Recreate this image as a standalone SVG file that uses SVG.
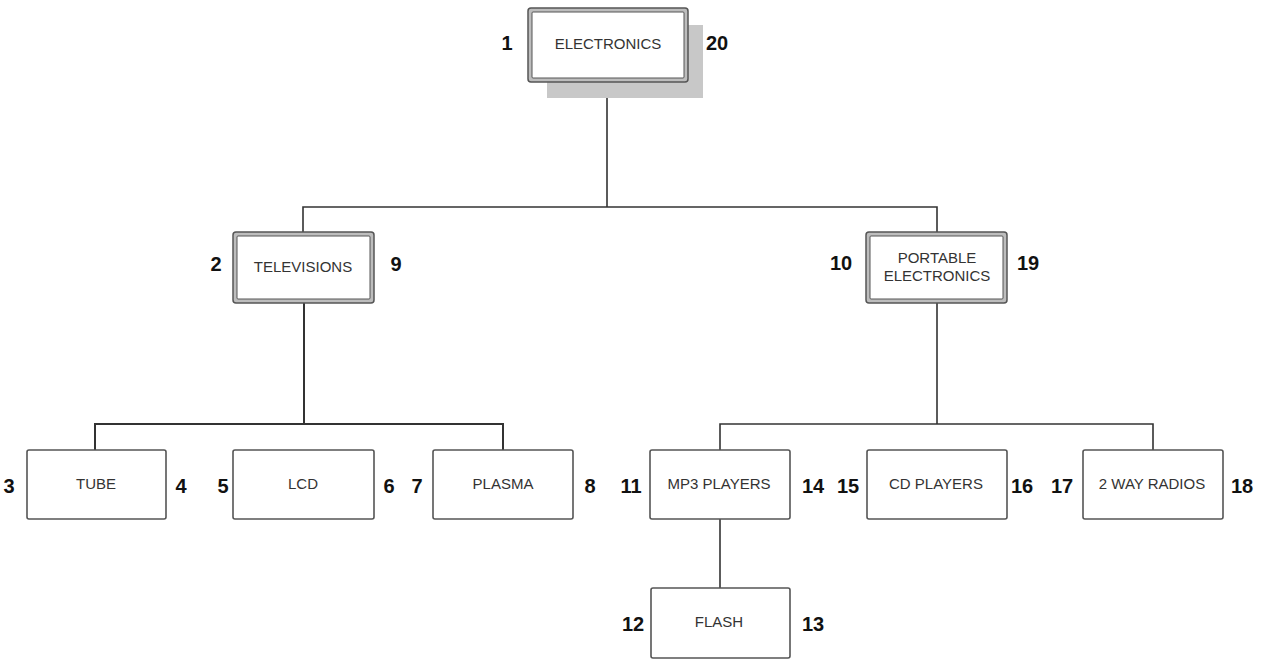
<svg xmlns="http://www.w3.org/2000/svg" width="1261" height="665" viewBox="0 0 1261 665">
<style>
.lbl{font-family:"Liberation Sans",Arial,sans-serif;font-size:15px;fill:#333;text-anchor:middle}
.num{font-family:"Liberation Sans",Arial,sans-serif;font-size:20px;font-weight:bold;fill:#111;text-anchor:middle}
.box{fill:#fff;stroke:#555;stroke-width:1.6}
.outer{fill:#bdbdbd;stroke:#555;stroke-width:1.5}
.inner{fill:#fff;stroke:#555;stroke-width:1}
.conn{fill:none;stroke:#333;stroke-width:1.6}
</style>
<rect width="1261" height="665" fill="#fff"/>
<g id="connectors">
<path class="conn" d="M607,82 V207 M303,233 V207 H937 V233"/>
<path class="conn" d="M304,303 V424 M95,450 V424 H503 V450" style="stroke-width:2"/>
<path class="conn" d="M937,303 V424 M720,450 V424 H1153 V450"/>
<path class="conn" d="M720,519 V588"/>
</g>
<g id="electronics">
<rect x="547" y="25" width="156" height="73" fill="#c8c8c8"/>
<rect class="outer" x="528" y="8" width="160" height="74" rx="3"/>
<rect class="inner" x="532" y="12" width="152" height="66" rx="1"/>
<text class="lbl" x="608" y="48.5">ELECTRONICS</text>
<text class="num" x="507" y="50">1</text>
<text class="num" x="717" y="50">20</text>
</g>
<g id="televisions">
<rect class="outer" x="233" y="232" width="141" height="71" rx="3"/>
<rect class="inner" x="237" y="236" width="133" height="63" rx="1"/>
<text class="lbl" x="303" y="272">TELEVISIONS</text>
<text class="num" x="216" y="271">2</text>
<text class="num" x="396" y="271">9</text>
</g>
<g id="portable">
<rect class="outer" x="866" y="232" width="141" height="71" rx="3"/>
<rect class="inner" x="870" y="236" width="133" height="63" rx="1"/>
<text class="lbl" x="937" y="263">PORTABLE</text>
<text class="lbl" x="937" y="281">ELECTRONICS</text>
<text class="num" x="841" y="270">10</text>
<text class="num" x="1028" y="270">19</text>
</g>
<g id="tube">
<rect class="box" x="27" y="450" width="139" height="69" rx="2"/>
<text class="lbl" x="96" y="489">TUBE</text>
<text class="num" x="9" y="493">3</text>
<text class="num" x="181" y="493">4</text>
</g>
<g id="lcd">
<rect class="box" x="233" y="450" width="141" height="69" rx="2"/>
<text class="lbl" x="303" y="489">LCD</text>
<text class="num" x="223" y="493">5</text>
<text class="num" x="389" y="493">6</text>
</g>
<g id="plasma">
<rect class="box" x="433" y="450" width="140" height="69" rx="2"/>
<text class="lbl" x="503" y="489">PLASMA</text>
<text class="num" x="417" y="493">7</text>
<text class="num" x="590" y="493">8</text>
</g>
<g id="mp3">
<rect class="box" x="650" y="450" width="140" height="69" rx="2"/>
<text class="lbl" x="719" y="489">MP3 PLAYERS</text>
<text class="num" x="631" y="493">11</text>
<text class="num" x="813" y="493">14</text>
</g>
<g id="cd">
<rect class="box" x="867" y="450" width="140" height="69" rx="2"/>
<text class="lbl" x="936" y="489">CD PLAYERS</text>
<text class="num" x="848" y="493">15</text>
<text class="num" x="1022" y="493">16</text>
</g>
<g id="radios">
<rect class="box" x="1083" y="450" width="140" height="69" rx="2"/>
<text class="lbl" x="1152" y="489">2 WAY RADIOS</text>
<text class="num" x="1062" y="493">17</text>
<text class="num" x="1242" y="493">18</text>
</g>
<g id="flash">
<rect class="box" x="651" y="588" width="139" height="70" rx="2"/>
<text class="lbl" x="719" y="627">FLASH</text>
<text class="num" x="633" y="631">12</text>
<text class="num" x="813" y="631">13</text>
</g>
</svg>
